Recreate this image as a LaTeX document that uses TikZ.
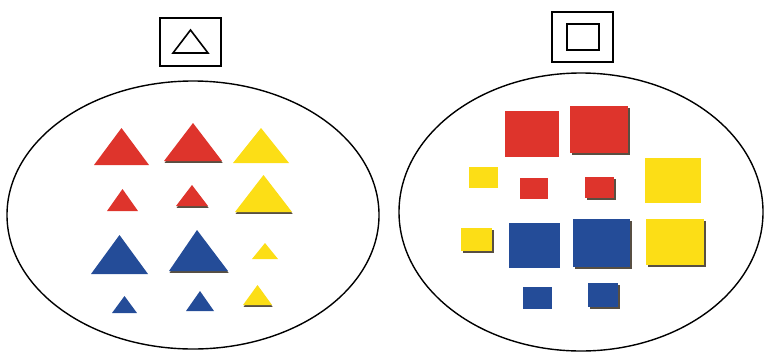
\documentclass[tikz,border=0pt]{standalone}
\usepackage{tikz}
\usetikzlibrary{shapes.geometric,shadows,positioning}
\usepackage{xcolor}
\definecolor{PcRed}{RGB}{222,52,44}
\definecolor{PcYellow}{RGB}{252,222,22}
\definecolor{PcBlue}{RGB}{36,76,152}
\definecolor{PcShade}{RGB}{70,60,45}
\tikzset{
  setnode/.style={ellipse,draw=black,line width=0.7pt,inner sep=0pt},
  labnode/.style={rectangle,draw=black,line width=0.6pt,inner sep=0pt,
                  minimum width=30.5pt,minimum height=24pt},
  pcred/.style={fill=PcRed},
  pcyel/.style={fill=PcYellow},
  pcblue/.style={fill=PcBlue},
  shd/.style={drop shadow={shadow xshift=0.9pt,shadow yshift=-0.9pt,
              fill=PcShade,opacity=0.9}},
  tshd/.style={drop shadow={shadow xshift=0.3pt,shadow yshift=-0.9pt,
              fill=PcShade,opacity=0.9}},
}

\begin{document}
\begin{tikzpicture}[x={(0.5pt,0)},y={(0,-0.5pt)}]
  \useasboundingbox (0,0) rectangle (764,354);
  % the two sets
  \node[setnode,minimum width=186pt,minimum height=134pt] (setT) at (193,215) {};
  \node[setnode,minimum width=182pt,minimum height=139pt] (setS) at (581,212) {};
  % labels above the sets
  \node[labnode] (labT) at (190.5,42) {};
  \node[labnode,minimum height=25pt] (labS) at (582.5,37) {};
  \draw[line width=0.8pt] (173,53) -- (190.5,30) -- (208,53) -- cycle;
  \draw[line width=0.8pt] (567,24) rectangle (599,50);
  %
  % triangles
  \foreach \l/\r/\t/\b in {94/149/128/165, 107/138/189/211}
    \fill[pcred] (\l,\b) -- ({(\l+\r)/2},\t) -- (\r,\b) -- cycle;
  \foreach \l/\r/\t/\b in {164/222/123/161, 176/208/185/206}
    \fill[pcred,tshd] (\l,\b) -- ({(\l+\r)/2},\t) -- (\r,\b) -- cycle;
  \foreach \l/\r/\t/\b in {233/289/128/163, 252/278/243/259}
    \fill[pcyel] (\l,\b) -- ({(\l+\r)/2},\t) -- (\r,\b) -- cycle;
  \foreach \l/\r/\t/\b in {235/292/175/212, 243/272/285/305}
    \fill[pcyel,tshd] (\l,\b) -- ({(\l+\r)/2},\t) -- (\r,\b) -- cycle;
  \foreach \l/\r/\t/\b in {91/148/235/274, 112/137/296/313, 186/214/291/311}
    \fill[pcblue] (\l,\b) -- ({(\l+\r)/2},\t) -- (\r,\b) -- cycle;
  \fill[pcblue,tshd] (169,271) -- (197,230) -- (228,271) -- cycle;
  %
  % squares
  \fill[pcred] (505,111) rectangle (559,157);
  \fill[pcred] (520,178) rectangle (548,199);
  \fill[pcred,shd] (570,106) rectangle (628,153);
  \fill[pcred,shd] (585,177) rectangle (614,198);
  \fill[pcyel] (469,167) rectangle (498,188);
  \fill[pcyel] (645,158) rectangle (701,203);
  \fill[pcyel,shd] (461,228) rectangle (492,251);
  \fill[pcyel,shd] (646,219) rectangle (704,265);
  \fill[pcblue] (509,223) rectangle (560,268);
  \fill[pcblue] (523,287) rectangle (552,309);
  \fill[pcblue,shd] (573,219) rectangle (630,267);
  \fill[pcblue,shd] (588,283) rectangle (618,307);
\end{tikzpicture}
\end{document}
